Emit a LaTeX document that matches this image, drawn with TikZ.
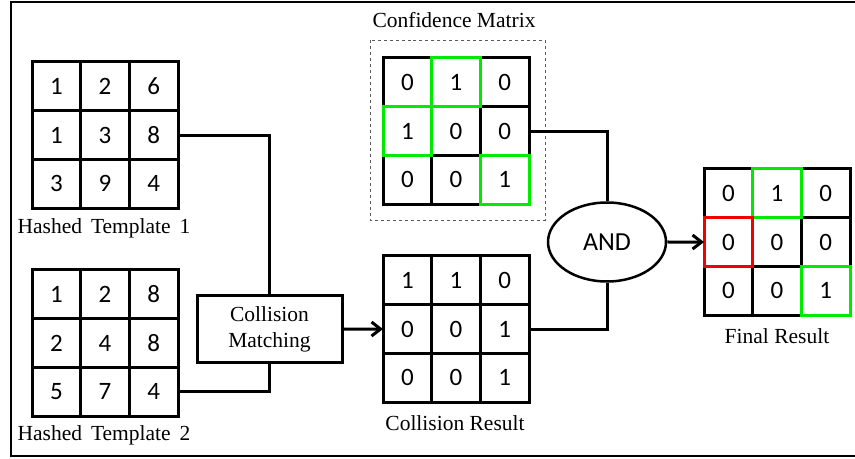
\documentclass[tikz,border=0pt]{standalone}
\usepackage{fontspec}
\setmainfont{Liberation Serif}
\newfontfamily\numfont{Carlito}
\usetikzlibrary{arrows.meta,shapes.geometric,fit}

\definecolor{hitgreen}{RGB}{0,235,0}
\definecolor{missred}{RGB}{240,0,0}

% 3x3 grid of numbered cells: name, left x, top y, nine values row by row
\newcommand{\matgrid}[4]{%
  \foreach \v [count=\i from 0] in {#4} {
    \pgfmathtruncatemacro\gr{div(\i,3)}
    \pgfmathtruncatemacro\gc{mod(\i,3)}
    \node[cell] (#1-\gr\gc) at (#2+\gc*48.7+24.35, #3+\gr*48.7+24.35) {\v};
  }
}

\tikzset{
  cell/.style={draw, line width=3bp, minimum size=48.7bp, inner sep=0pt, outer sep=0pt,
    font=\numfont\fontsize{25bp}{28bp}\selectfont},
  caption/.style={font=\fontsize{21.5bp}{24bp}\selectfont, inner sep=0pt},
  link/.style={line width=3bp},
  flow/.style={line width=3bp, -{Straight Barb[length=9bp, width=14bp, line width=3bp]}},
  cellmark/.style={line width=3bp},
}

\begin{document}
\begin{tikzpicture}[x=1bp, y=-1bp]
\useasboundingbox (0,0) rectangle (855,459);
\fill[white] (0,0) rectangle (855,459);

% outer frame (open on the right)
\draw[line width=2.2bp] (856,2) -- (11,2) -- (11,456) -- (856,456);

% input templates
\matgrid{ta}{32}{62}{1,2,6,1,3,8,3,9,4}
\matgrid{tb}{32}{270}{1,2,8,2,4,8,5,7,4}
\node[caption] (lta) at (104,228) {Hashed\, Template\, 1};
\node[caption] (ltb) at (104,435) {Hashed\, Template\, 2};

% confidence matrix in its dashed frame
\draw[dashed, line width=0.9bp, gray!70!black] (370,40) rectangle (545,220);
\matgrid{cf}{383}{58}{0,1,0,1,0,0,0,0,1}
\node[caption] (lcf) at (454,20) {Confidence Matrix};
\foreach \k in {01,10,22}
  \draw[cellmark, hitgreen] (cf-\k.north west) rectangle (cf-\k.south east);

% collision result
\matgrid{cr}{383}{256}{1,1,0,0,0,1,0,0,1}
\node[caption] (lcr) at (455,423) {Collision Result};

% final result
\matgrid{fr}{704}{169}{0,1,0,0,0,0,0,0,1}
\node[caption] (lfr) at (777,336) {Final Result};
\foreach \k in {01,22}
  \draw[cellmark, hitgreen] (fr-\k.north west) rectangle (fr-\k.south east);
\draw[cellmark, missred] (fr-10.north west) rectangle (fr-10.south east);

% collision matching block
\node[draw, line width=3bp, minimum width=145bp, minimum height=66bp,
  align=center, font=\fontsize{21.5bp}{26bp}\selectfont] (cm) at (269.5,329)
  {Collision\\Matching};

% AND gate
\node[draw, ellipse, line width=2.5bp, minimum width=118bp, minimum height=79bp,
  inner sep=0pt, font=\numfont\fontsize{26bp}{28bp}\selectfont] (and) at (607,242) {AND};

% connectors
\draw[link] (ta-12.east) -| (cm.north);
\draw[link] (tb-22.east) -| (cm.south);
\draw[flow] (cm.east) -- (cr-10.west);
\draw[link] (cf-12.east) -| (and.north);
\draw[link] (cr-12.east) -| (and.south);
\draw[flow] (and.east) -- (fr-10.west);
\end{tikzpicture}
\end{document}
